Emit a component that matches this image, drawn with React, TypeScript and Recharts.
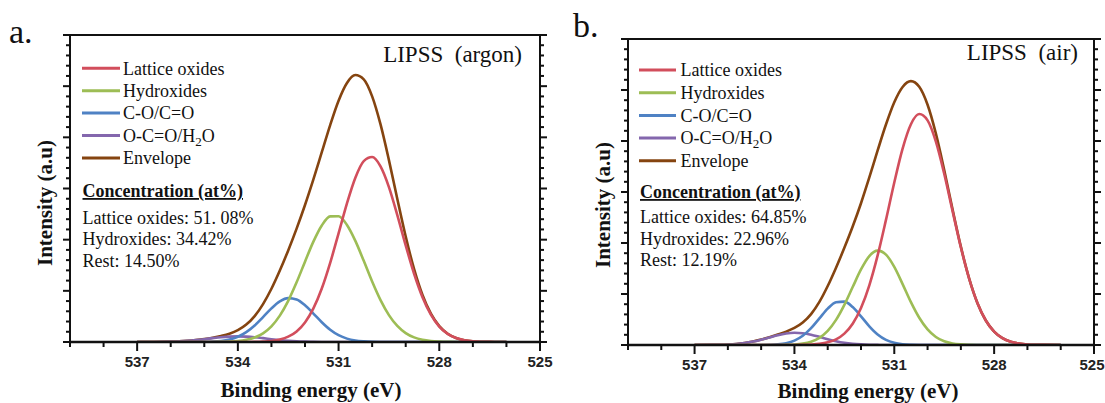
import React from 'react';
import { LineChart, Line, XAxis, YAxis } from 'recharts';

// Binding energy grid (eV)
const energy = [537, 536.5, 536, 535.75, 535.5, 535.25, 535, 534.75, 534.5, 534.25, 534, 533.75, 533.5, 533.25, 533, 532.75, 532.5, 532.25, 532, 531.75, 531.5, 531.25, 531, 530.75, 530.5, 530.25, 530, 529.75, 529.5, 529.25, 529, 528.75, 528.5, 528.25, 528, 527.75, 527.5, 527.25, 527, 526.5, 526];

// Panel a: LIPSS (argon)
const latticeA = [0, 0, 0, 0, 0, 0, 0, 0, 0, 0, 0, 0.001, 0.003, 0.009, 0.021, 0.049, 0.104, 0.207, 0.383, 0.657, 1.045, 1.546, 2.124, 2.71, 3.212, 3.536, 3.615, 3.433, 3.028, 2.48, 1.887, 1.334, 0.876, 0.534, 0.302, 0.159, 0.078, 0.035, 0.015, 0.002, 0];
const hydroxA = [0, 0, 0, 0, 0, 0, 0, 0.001, 0.003, 0.008, 0.018, 0.042, 0.087, 0.17, 0.307, 0.516, 0.805, 1.166, 1.57, 1.962, 2.277, 2.455, 2.459, 2.287, 1.976, 1.586, 1.182, 0.818, 0.526, 0.314, 0.174, 0.09, 0.043, 0.019, 0.008, 0.003, 0.001, 0, 0, 0, 0];
const coA = [0, 0, 0, 0, 0, 0.001, 0.003, 0.008, 0.021, 0.048, 0.102, 0.192, 0.323, 0.487, 0.657, 0.794, 0.858, 0.83, 0.718, 0.556, 0.386, 0.239, 0.133, 0.066, 0.029, 0.012, 0.004, 0.001, 0, 0, 0, 0, 0, 0, 0, 0, 0, 0, 0, 0, 0];
const ocoA = [0, 0.001, 0.007, 0.013, 0.023, 0.037, 0.055, 0.075, 0.093, 0.105, 0.11, 0.105, 0.093, 0.075, 0.055, 0.037, 0.023, 0.013, 0.007, 0.003, 0.001, 0, 0, 0, 0, 0, 0, 0, 0, 0, 0, 0, 0, 0, 0, 0, 0, 0, 0, 0, 0];
const envA = [0, 0.001, 0.007, 0.013, 0.023, 0.038, 0.058, 0.084, 0.117, 0.161, 0.23, 0.34, 0.506, 0.741, 1.04, 1.396, 1.79, 2.216, 2.678, 3.178, 3.709, 4.24, 4.716, 5.063, 5.217, 5.134, 4.801, 4.252, 3.554, 2.794, 2.061, 1.424, 0.919, 0.553, 0.31, 0.162, 0.079, 0.035, 0.015, 0.002, 0];

// Panel b: LIPSS (air)
const latticeB = [0, 0, 0, 0, 0, 0, 0, 0, 0, 0, 0, 0.003, 0.009, 0.022, 0.052, 0.112, 0.224, 0.418, 0.725, 1.171, 1.757, 2.453, 3.187, 3.851, 4.329, 4.528, 4.405, 3.987, 3.357, 2.63, 1.916, 1.299, 0.819, 0.481, 0.262, 0.133, 0.063, 0.028, 0.011, 0.002, 0];
const hydroxB = [0, 0, 0, 0, 0, 0, 0, 0, 0.001, 0.003, 0.01, 0.027, 0.065, 0.141, 0.277, 0.492, 0.787, 1.136, 1.481, 1.743, 1.85, 1.771, 1.531, 1.194, 0.84, 0.534, 0.306, 0.158, 0.074, 0.031, 0.012, 0.004, 0.001, 0, 0, 0, 0, 0, 0, 0, 0];
const coB = [0, 0, 0, 0, 0, 0, 0.001, 0.004, 0.012, 0.034, 0.085, 0.18, 0.33, 0.522, 0.712, 0.837, 0.85, 0.744, 0.562, 0.366, 0.205, 0.099, 0.042, 0.015, 0.005, 0.001, 0, 0, 0, 0, 0, 0, 0, 0, 0, 0, 0, 0, 0, 0, 0];
const ocoB = [0, 0.002, 0.01, 0.02, 0.039, 0.067, 0.105, 0.149, 0.193, 0.226, 0.24, 0.231, 0.202, 0.16, 0.115, 0.075, 0.044, 0.024, 0.012, 0.005, 0.002, 0, 0, 0, 0, 0, 0, 0, 0, 0, 0, 0, 0, 0, 0, 0, 0, 0, 0, 0, 0];
const envB = [0, 0.002, 0.01, 0.02, 0.039, 0.067, 0.106, 0.153, 0.206, 0.263, 0.335, 0.441, 0.606, 0.845, 1.156, 1.516, 1.905, 2.322, 2.78, 3.285, 3.814, 4.323, 4.76, 5.06, 5.174, 5.063, 4.711, 4.145, 3.431, 2.661, 1.928, 1.303, 0.82, 0.481, 0.262, 0.133, 0.063, 0.028, 0.011, 0.002, 0];

// Axis ticks
const xTickValues = [539, 538, 537, 536, 535, 534, 533, 532, 531, 530, 529, 528, 527, 526, 525];
const xLabelValues = [537, 534, 531, 528, 525];
const yTickValues = [0, 0.2, 0.4, 0.6, 0.8, 1, 1.2, 1.4, 1.6, 1.8, 2, 2.2, 2.4, 2.6, 2.8, 3, 3.2, 3.4, 3.6, 3.8, 4, 4.2, 4.4, 4.6, 4.8, 5, 5.2, 5.4, 5.6, 5.8, 6];
const yMajorValues = [0, 1, 2, 3, 4, 5, 6];

// Series / legend
const seriesKeys = ['lattice', 'hydrox', 'co', 'oco', 'env'];
const seriesNames = ['Lattice oxides', 'Hydroxides', 'C-O/C=O', 'O-C=O/H2O', 'Envelope'];
const seriesColors = ['#d24e5c', '#9dbd55', '#4f82c4', '#8467ad', '#854410'];
const drawOrder = ['env', 'oco', 'co', 'hydrox', 'lattice'];

// Texts
const panelLetters = ['a.', 'b.'];
const panelTitles = ['LIPSS  (argon)', 'LIPSS  (air)'];
const concHeader = 'Concentration (at%)';
const concA = ['Lattice oxides: 51. 08%', 'Hydroxides: 34.42%', 'Rest: 14.50%'];
const concB = ['Lattice oxides: 64.85%', 'Hydroxides: 22.96%', 'Rest: 12.19%'];
const xTitle = 'Binding energy (eV)';
const yTitle = 'Intensity (a.u)';

const buildRows = (lat: number[], hyd: number[], co: number[], oco: number[], env: number[]) =>
  energy.map((e, i) => ({ e, lattice: lat[i], hydrox: hyd[i], co: co[i], oco: oco[i], env: env[i] }));

const rowsA = buildRows(latticeA, hydroxA, coA, ocoA, envA);
const rowsB = buildRows(latticeB, hydroxB, coB, ocoB, envB);

const SERIF = '"Liberation Serif", "DejaVu Serif", "Times New Roman", serif';
const SANS = '"Liberation Sans", Arial, sans-serif';
const INK = '#111';
const TICK_FONT = 15;

const XTick = (props: any) => {
  const { x, y, payload, maxX } = props;
  const major = xLabelValues.includes(payload.value);
  const half = TICK_FONT * 0.84;
  const clamp = x + half > maxX;
  return (
    <g>
      <line x1={x} x2={x} y1={y} y2={y + (major ? 9 : 5)} stroke={INK} strokeWidth={2} />
      {major && (
        <text
          x={clamp ? maxX : x}
          y={y + 25}
          textAnchor={clamp ? 'end' : 'middle'}
          style={{ fontFamily: SANS, fontWeight: 'bold', fontSize: TICK_FONT }}
          fill="#222"
        >
          {payload.value}
        </text>
      )}
    </g>
  );
};

const YTick = (props: any, side: number) => {
  const { x, y, payload } = props;
  const major = yMajorValues.some((v) => Math.abs(v - payload.value) < 1e-6);
  const len = major ? 7 : 4;
  return <line x1={x} x2={x + side * len} y1={y} y2={y} stroke={INK} strokeWidth={2} />;
};

type PanelProps = {
  rows: any[];
  left: number;
  width: number;
  margin: { top: number; right: number; bottom: number; left: number };
};

function Panel({ rows, left, width, margin }: PanelProps) {
  return (
    <div style={{ position: 'absolute', left, top: 0 }}>
      <LineChart width={width} height={403} data={rows} margin={margin}>
        <XAxis
          xAxisId="main"
          dataKey="e"
          type="number"
          domain={[525, 539]}
          reversed
          allowDataOverflow
          ticks={xTickValues}
          interval={0}
          height={1}
          tickSize={0}
          tickMargin={0}
          tickLine={false}
          tick={(p: any) => <XTick {...p} maxX={width - 0.5} />}
          axisLine={{ stroke: INK, strokeWidth: 2.5 }}
        />
        <XAxis
          xAxisId="top"
          orientation="top"
          type="number"
          domain={[525, 539]}
          reversed
          allowDataOverflow
          height={1}
          tick={false}
          tickLine={false}
          axisLine={{ stroke: INK, strokeWidth: 2 }}
        />
        <YAxis
          yAxisId="left"
          type="number"
          domain={[0, 6]}
          allowDataOverflow
          ticks={yTickValues}
          interval={0}
          width={1}
          tickSize={0}
          tickMargin={0}
          tickLine={false}
          tick={(p: any) => YTick(p, -1)}
          axisLine={{ stroke: INK, strokeWidth: 2 }}
        />
        <YAxis
          yAxisId="right"
          orientation="right"
          type="number"
          domain={[0, 6]}
          allowDataOverflow
          ticks={yTickValues}
          interval={0}
          width={1}
          tickSize={0}
          tickMargin={0}
          tickLine={false}
          tick={(p: any) => YTick(p, 1)}
          axisLine={{ stroke: INK, strokeWidth: 2 }}
        />
        {drawOrder.map((k) => {
          const idx = seriesKeys.indexOf(k);
          return (
            <Line
              key={k}
              xAxisId="main"
              yAxisId="left"
              type="monotone"
              dataKey={k}
              name={seriesNames[idx]}
              stroke={seriesColors[idx]}
              strokeWidth={2.6}
              dot={false}
              activeDot={false}
              isAnimationActive={false}
            />
          );
        })}
      </LineChart>
    </div>
  );
}

const renderName = (name: string) => {
  if (name === 'O-C=O/H2O') {
    return (
      <>
        {'O-C=O/H'}
        <tspan dy={4} style={{ fontSize: 13 }}>2</tspan>
        <tspan dy={-4}>O</tspan>
      </>
    );
  }
  return name;
};

type OverlayCfg = {
  letter: string; letterX: number; letterY: number;
  title: string; titleEnd: number; titleY: number;
  legX: number; legLen: number; legTextX: number; legY0: number; legStep: number;
  concX: number; concHeadY: number; concY: number[]; conc: string[];
  xTitleX: number; xTitleY: number; yTitleX: number; yTitleY: number;
};

const serif = (size: number, bold = false): React.CSSProperties => ({
  fontFamily: SERIF,
  fontSize: size,
  fontWeight: bold ? 'bold' : 'normal',
  whiteSpace: 'pre',
});

const Overlay = ({ c }: { c: OverlayCfg }) => (
  <g>
    <text x={c.letterX} y={c.letterY} style={serif(34)} fill="#111">{c.letter}</text>
    <text x={c.titleEnd} y={c.titleY} textAnchor="end" style={serif(23)} fill="#111">
      {c.title}
    </text>
    {seriesNames.map((n, i) => (
      <g key={n}>
        <line x1={c.legX} x2={c.legX + c.legLen} y1={c.legY0 + i * c.legStep} y2={c.legY0 + i * c.legStep} stroke={seriesColors[i]} strokeWidth={3} />
        <text x={c.legTextX} y={c.legY0 + i * c.legStep + 6.3} style={serif(18)} fill="#111">
          {renderName(n)}
        </text>
      </g>
    ))}
    <text x={c.concX} y={c.concHeadY} style={{ ...serif(18, true), textDecoration: 'underline' }} fill="#111">
      {concHeader}
    </text>
    {c.conc.map((t, i) => (
      <text key={t} x={c.concX} y={c.concY[i]} style={serif(18)} fill="#111">
        {t}
      </text>
    ))}
    <text x={c.xTitleX} y={c.xTitleY} textAnchor="middle" style={serif(21, true)} fill="#111">
      {xTitle}
    </text>
    <text transform={`translate(${c.yTitleX},${c.yTitleY}) rotate(-90)`} textAnchor="middle" style={serif(21, true)} fill="#111">
      {yTitle}
    </text>
  </g>
);

const cfgA: OverlayCfg = {
  letter: panelLetters[0], letterX: 9, letterY: 43,
  title: panelTitles[0], titleEnd: 522, titleY: 62,
  legX: 82, legLen: 38, legTextX: 123, legY0: 68.3, legStep: 22.4,
  concX: 82.5, concHeadY: 197, concY: [223.5, 245, 266.5], conc: concA,
  xTitleX: 311, xTitleY: 397, yTitleX: 52, yTitleY: 203,
};

const cfgB: OverlayCfg = {
  letter: panelLetters[1], letterX: 573, letterY: 37,
  title: panelTitles[1], titleEnd: 1078, titleY: 60,
  legX: 639, legLen: 37, legTextX: 680.5, legY0: 70, legStep: 22.7,
  concX: 640, concHeadY: 198, concY: [223, 244.5, 266], conc: concB,
  xTitleX: 868, xTitleY: 398, yTitleX: 610, yTitleY: 205,
};

export default function App() {
  return (
    <div style={{ position: 'absolute', left: 0, top: 0, width: 1105, height: 403, background: '#fff', overflow: 'hidden' }}>
      <Panel rows={rowsA} left={0} width={560} margin={{ top: 34, right: 19, bottom: 60, left: 69 }} />
      <Panel rows={rowsB} left={558} width={547} margin={{ top: 38, right: 10, bottom: 57, left: 69 }} />
      <svg width={1105} height={403} style={{ position: 'absolute', left: 0, top: 0, pointerEvents: 'none' }}>
        <Overlay c={cfgA} />
        <Overlay c={cfgB} />
      </svg>
    </div>
  );
}
